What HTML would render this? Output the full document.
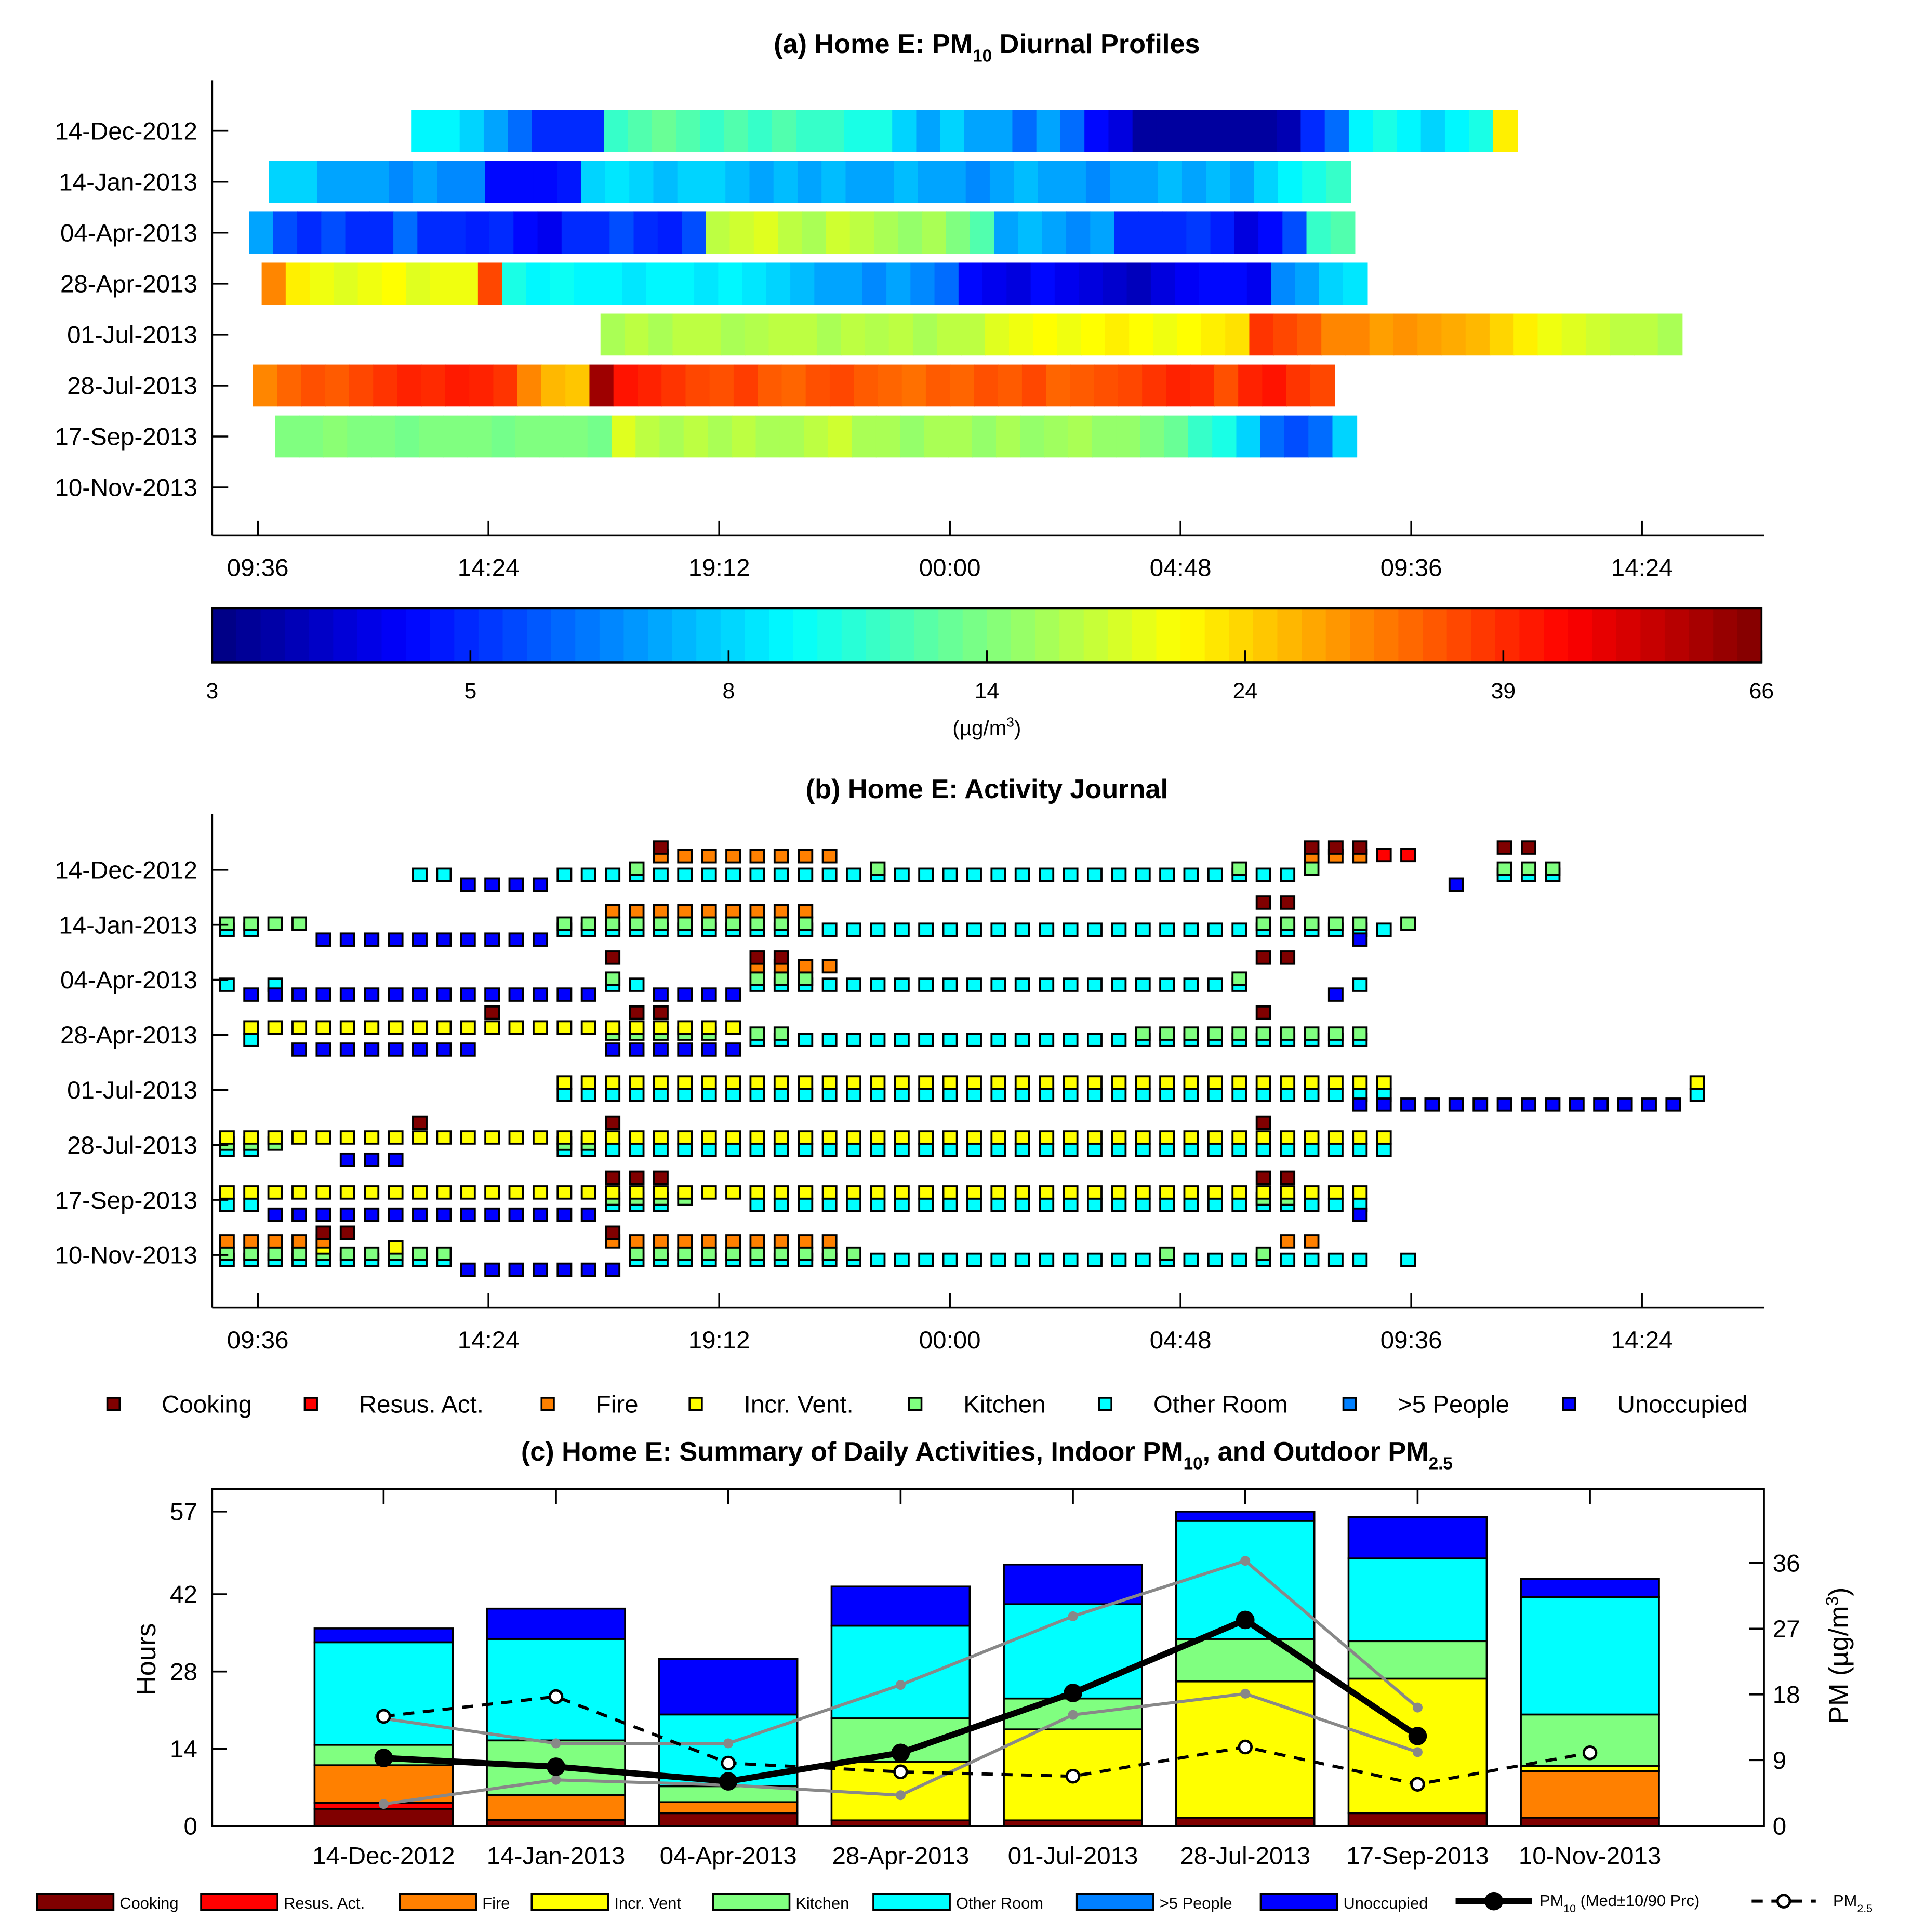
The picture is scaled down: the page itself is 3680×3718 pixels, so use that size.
<!DOCTYPE html>
<html><head><meta charset="utf-8"><style>
html,body{margin:0;padding:0;background:#fff;}
svg{display:block;font-family:"Liberation Sans",sans-serif;}
</style></head><body>
<svg id="fig" width="3680" height="3718" viewBox="0 0 1550 1566" xmlns="http://www.w3.org/2000/svg">
<g id="pa"></g>
<g id="pcb"></g>
<g id="pb"></g>
<g id="pc"></g>
</svg>
<script>
// ---------- data ----------
const dates = ["14-Dec-2012","14-Jan-2013","04-Apr-2013","28-Apr-2013","01-Jul-2013","28-Jul-2013","17-Sep-2013","10-Nov-2013"];
const timeTicks = ["09:36","14:24","19:12","00:00","04:48","09:36","14:24"];
const cbTicks = [3,5,8,14,24,39,66];
const hmStart = [3.2, 0.23, -0.18, 0.08, 7.13, -0.1, 0.36, null];
const hm0 = [9,9,8,7,6,5,5,5,11,12,13,12,11,12,11,12,11,11,10,10,8,7,8,7,7,6,7,6,4.5,4,3.3,3.3,3.3,3.3,3.3,3.3,3.5,5,6,9,10,9,8,9,10,22];
const hm1 = [8,8,7,7,7,6.5,7,6.5,6.5,4.5,4.5,4.5,4.7,8,8.5,8,7.5,8,8,7.5,7,7.5,7,7.5,7,7,7.5,7,7,6.5,7,7.5,7,7,6.5,7,7,7.5,7,7.5,7,8,9,10,11];
const hm2 = [7,5.5,5,5.5,5,5,6,5,5,4.8,5,4.5,4.2,5,5,5.5,5,4.8,5.5,17,18,19,17,16,18,17,16,15,16,14,12,7,7.5,7,6.5,7,5,5,5,5.2,4.8,4,4.5,5.5,11,12];
const hm3 = [30,22,20,19,20,21,19,20,20,36,10,9,9.5,9,9,8.5,9,9,8.5,9,8.5,8,7.5,7,7,6.5,7,6.5,6,4.5,4.2,4,4.5,4.2,4,3.8,3.6,4,4.3,4.5,4.5,4.2,6.5,7,8,8.5];
const hm4 = [16,17,16,17,17,16,16.5,17,17,16,17,16.5,17,16,17,17,19,20,21,20,21,22,21,20,21,22,23,38,36,34,30,30,28,29,28,27,26,24,22,20,19,18,17,17,16];
const hm5 = [30,33,35,34,36,38,40,39,41,40,38,30,26,25,60,42,40,38,36,35,37,34,33,35,36,34,33,32,34,33,35,34,36,33,34,35,36,38,40,39,35,40,42,38,36];
const hm6 = [14,14,14.5,14,14,13.5,14,14,14,13.5,14,14,14,13.5,19,17,16,17,16,17,16,16,17,18,16,16,15,16,16,15,16,15,15.5,16,15,15,14,13,11,10,8,6,5.5,6,8];
const hmValues = [hm0,hm1,hm2,hm3,hm4,hm5,hm6,[]];
const actCooking = [[0,18,18],[0,45,47],[0,53,54],[1,43,44],[2,16,16],[2,22,23],[2,43,44],[3,11,11],[3,17,18],[3,43,43],[5,8,8],[5,16,16],[5,43,43],[6,16,18],[6,43,44],[7,4,5],[7,16,16]];
const actResus = [[0,48,49]];
const actFire = [[0,18,25],[0,45,47],[1,16,24],[2,22,25],[7,0,4],[7,16,25],[7,44,45]];
const actVent = [[3,1,21],[4,14,48],[4,61,61],[5,0,48],[6,0,47],[7,4,4],[7,7,7]];
const actKitchen = [[0,17,17],[0,27,27],[0,42,42],[0,45,45],[0,53,55],[1,0,3],[1,14,24],[1,43,47],[1,49,49],[2,16,16],[2,22,24],[2,42,42],[3,16,20],[3,22,23],[3,38,47],[5,0,2],[5,14,15],[6,16,19],[6,43,44],[7,0,9],[7,17,26],[7,39,39],[7,43,43]];
const actOther = [[0,8,9],[0,14,44],[0,53,55],[1,0,1],[1,14,48],[2,0,0],[2,2,2],[2,16,17],[2,22,42],[2,47,47],[3,1,1],[3,22,47],[4,14,48],[4,61,61],[5,0,1],[5,14,48],[6,0,1],[6,16,18],[6,22,47],[7,0,9],[7,17,47],[7,49,49]];
const actPeople = [];
const actUnocc = [[0,10,13],[0,51,51],[1,4,13],[1,47,47],[2,1,15],[2,18,21],[2,46,46],[3,3,10],[3,16,21],[4,47,60],[5,5,7],[6,2,15],[6,47,47],[7,10,16]];
const sumCooking = [3.1,1.1,2.3,1.0,1.0,1.5,2.3,1.5];
const sumResus = [1.1,0,0,0,0,0,0,0];
const sumFire = [6.8,4.5,2.0,0,0,0,0,8.4];
const sumVent = [0,0,0,10.6,16.5,24.7,24.4,1.0];
const sumKitchen = [3.7,9.9,2.9,7.9,5.6,7.7,6.8,9.3];
const sumOther = [18.6,18.4,13.0,16.8,17.1,21.4,15.0,21.3];
const sumPeople = [0,0,0,0,0,0,0,0];
const sumUnocc = [2.5,5.5,10.1,7.1,7.2,1.7,7.5,3.3];
const pm10Med = [9.3,8.1,6.1,10.0,18.2,28.2,12.3];
const pm10P90 = [14.7,11.3,11.3,19.3,28.7,36.3,16.2];
const pm10P10 = [3.0,6.3,5.6,4.2,15.2,18.1,10.1];
const pm25 = [15.0,17.7,8.6,7.4,6.8,10.8,5.7,10.0];
const hoursTicks = [0,14,28,42,57];
const pmTicks = [0,9,18,27,36];

// ---------- helpers ----------
const NS="http://www.w3.org/2000/svg";
function mk(tag,attrs,parent){const e=document.createElementNS(NS,tag);for(const k in attrs)e.setAttribute(k,attrs[k]);parent.appendChild(e);return e;}
function txt(s,x,y,size,parent,anchor,weight){const t=mk('text',{x:x,y:y,'font-size':size,'text-anchor':anchor||'middle','font-weight':weight||'normal',fill:'#000'},parent);t.textContent=s;return t;}
function fOf(v){const n=cbTicks.length-1;if(v<=cbTicks[0])return 0;if(v>=cbTicks[n])return 1;
 for(let i=0;i<n;i++){if(v<=cbTicks[i+1]){const a=Math.log(v/cbTicks[i])/Math.log(cbTicks[i+1]/cbTicks[i]);return (i+a)/n;}}return 1;}
function jetF(f){const c=x=>Math.round(255*Math.max(0,Math.min(1,1.5-Math.abs(x))));return `rgb(${c(4*f-3)},${c(4*f-2)},${c(4*f-1)})`;}
const jet=v=>jetF(fOf(v));
const X0=209, PXH=38.96;
const xT=h=>X0+h*PXH;
const tickX=[0,4.8,9.6,14.4,19.2,24,28.8];

// ---------- panel a ----------
const pa=document.getElementById('pa');
const tA=txt('',800,43,22,pa,'middle','bold');
tA.innerHTML='(a) Home E: PM<tspan font-size="14" dy="7">10</tspan><tspan dy="-7"> Diurnal Profiles</tspan>';

const rowYA=i=>106+i*41.3;
hmValues.forEach((arr,r)=>{
  arr.forEach((v,i)=>{
    const x=xT(hmStart[r]+i*0.5);
    const rc=mk('rect',{x:x,y:rowYA(r)-17,width:PXH*0.5+0.6,height:34,fill:jet(v)},pa);
    
    
  });
});
mk('line',{x1:172,y1:65,x2:172,y2:434,stroke:'#000','stroke-width':1.5},pa);
mk('line',{x1:172,y1:434,x2:1430,y2:434,stroke:'#000','stroke-width':1.5},pa);
dates.forEach((d,i)=>{mk('line',{x1:172,y1:rowYA(i),x2:185,y2:rowYA(i),stroke:'#000','stroke-width':1.5},pa);
 const t=txt(d,160,rowYA(i)+7,20,pa,'end');});
tickX.forEach((h,i)=>{mk('line',{x1:xT(h),y1:434,x2:xT(h),y2:422,stroke:'#000','stroke-width':1.5},pa);
 const t=txt(timeTicks[i],xT(h),467,20,pa);});

// ---------- colorbar ----------
const cb=document.getElementById('pcb');
const CBX=172, CBW=1256;
for(let i=0;i<64;i++){const f=(i+0.5)/64;
 const r=mk('rect',{x:CBX+i*CBW/64,y:493,width:CBW/64+0.5,height:44,fill:jetF(f)},cb);
 }
mk('rect',{x:CBX,y:493,width:CBW,height:44,fill:'none',stroke:'#000','stroke-width':1.5},cb);
cbTicks.forEach((v,i)=>{const x=CBX+CBW*fOf(v);
 mk('line',{x1:x,y1:537,x2:x,y2:527,stroke:'#000','stroke-width':1.5},cb);
 const t=txt(String(v),x,566,18,cb);});
const cu=txt('',800,596,17,cb);cu.innerHTML='(µg/m<tspan font-size="11" dy="-7">3</tspan><tspan dy="7">)</tspan>';


// ---------- panel b ----------
const pb=document.getElementById('pb');
const tB=txt('(b) Home E: Activity Journal',800,647,22,pb,'middle','bold');

const rowYB=i=>705+i*44.6;
const binX=b=>184+19.54*b;
const cats=[
 {a:actOther,c:'#00ffff',o:4,n:'other-room'},
 {a:actPeople,c:'#0080ff',o:4,n:'people'},
 {a:actUnocc,c:'#0000ff',o:12,n:'unoccupied'},
 {a:actKitchen,c:'#80ff80',o:-1,n:'kitchen'},
 {a:actVent,c:'#ffff00',o:-6,n:'incr-vent'},
 {a:actFire,c:'#ff8000',o:-11,n:'fire'},
 {a:actResus,c:'#ff0000',o:-12,n:'resus-act'},
 {a:actCooking,c:'#800000',o:-18,n:'cooking'}];
cats.forEach(cat=>{cat.a.forEach(seg=>{for(let b=seg[1];b<=seg[2];b++){
 const r=mk('rect',{x:binX(b)-5.5,y:rowYB(seg[0])+cat.o-5,width:11,height:10,fill:cat.c,stroke:'#000','stroke-width':1.6},pb);
 }});});
mk('line',{x1:172,y1:660,x2:172,y2:1060,stroke:'#000','stroke-width':1.5},pb);
mk('line',{x1:172,y1:1060,x2:1430,y2:1060,stroke:'#000','stroke-width':1.5},pb);
dates.forEach((d,i)=>{mk('line',{x1:172,y1:rowYB(i),x2:185,y2:rowYB(i),stroke:'#000','stroke-width':1.5},pb);
 const t=txt(d,160,rowYB(i)+7,20,pb,'end');});
tickX.forEach((h,i)=>{mk('line',{x1:xT(h),y1:1060,x2:xT(h),y2:1048,stroke:'#000','stroke-width':1.5},pb);
 const t=txt(timeTicks[i],xT(h),1093,20,pb);});
const legB=[['Cooking','#800000',92],['Resus. Act.','#ff0000',252],['Fire','#ff8000',444],['Incr. Vent.','#ffff00',564],['Kitchen','#80ff80',742],['Other Room','#00ffff',896],['>5 People','#0080ff',1094],['Unoccupied','#0000ff',1272]];
legB.forEach(l=>{const g=mk('g',{},pb);
 mk('rect',{x:l[2]-5,y:1133,width:10,height:10,fill:l[1],stroke:'#000','stroke-width':1.5},g);
 txt(l[0],l[2]+39,1145,20,g,'start');});

// ---------- panel c ----------
const pc=document.getElementById('pc');
const tC=txt('',800,1184,22,pc,'middle','bold');
tC.innerHTML='(c) Home E: Summary of Daily Activities, Indoor PM<tspan font-size="14" dy="7">10</tspan><tspan dy="-7">, and Outdoor PM</tspan><tspan font-size="14" dy="7">2.5</tspan>';

const yH=h=>1480-h*4.47, yP=p=>1480-p*5.92;
const xB=i=>311+i*139.7;
const stackDefs=[[sumCooking,'#800000'],[sumResus,'#ff0000'],[sumFire,'#ff8000'],[sumVent,'#ffff00'],[sumKitchen,'#80ff80'],[sumOther,'#00ffff'],[sumPeople,'#0080ff'],[sumUnocc,'#0000ff']];
dates.forEach((d,i)=>{let acc=0;stackDefs.forEach(s=>{const v=s[0][i];if(v>0){
 const r=mk('rect',{x:xB(i)-56,y:yH(acc+v),width:112,height:v*4.47,fill:s[1],stroke:'#000','stroke-width':1.5},pc);
 acc+=v;}});
 const t=txt(d,xB(i),1511,20,pc);
 mk('line',{x1:xB(i),y1:1207,x2:xB(i),y2:1219,stroke:'#000','stroke-width':1.5},pc);});
function poly(vals,stroke,w,dash,name){const pts=vals.map((v,i)=>xB(i)+','+yP(v)).join(' ');
 const p=mk('polyline',{points:pts,fill:'none',stroke:stroke,'stroke-width':w},pc);if(dash)p.setAttribute('stroke-dasharray',dash);
 }
poly(pm10P90,'#888',2.5,null,'pm10-p90-line');
poly(pm10P10,'#888',2.5,null,'pm10-p10-line');
pm10P90.concat(pm10P10).forEach((v,k)=>{const c=mk('circle',{cx:xB(k%7),cy:yP(v),r:4,fill:'#888'},pc);});
poly(pm25,'#000',2.5,'9,7','pm25-line');
poly(pm10Med,'#000',5,null,'pm10-median-line');
pm10Med.forEach((v,i)=>{const c=mk('circle',{cx:xB(i),cy:yP(v),r:7.5,fill:'#000'},pc);});
pm25.forEach((v,i)=>{const c=mk('circle',{cx:xB(i),cy:yP(v),r:5,fill:'#fff',stroke:'#000','stroke-width':2},pc);});
mk('rect',{x:172,y:1207,width:1258,height:273,fill:'none',stroke:'#000','stroke-width':1.5},pc);
hoursTicks.forEach(h=>{mk('line',{x1:172,y1:yH(h),x2:184,y2:yH(h),stroke:'#000','stroke-width':1.5},pc);
 const t=txt(String(h),160,yH(h)+7,20,pc,'end');});
pmTicks.forEach(p=>{mk('line',{x1:1430,y1:yP(p),x2:1418,y2:yP(p),stroke:'#000','stroke-width':1.5},pc);
 const t=txt(String(p),1437,yP(p)+7,20,pc,'start');});
const yl=txt('Hours',0,0,22,pc);yl.setAttribute('transform','translate(126,1345) rotate(-90)');

const yr=txt('',0,0,22,pc);yr.setAttribute('transform','translate(1498,1342) rotate(-90)');
yr.innerHTML='PM (µg/m<tspan font-size="14" dy="-8">3</tspan><tspan dy="8">)</tspan>';

const legC=[['Cooking','#800000',30],['Resus. Act.','#ff0000',163],['Fire','#ff8000',324],['Incr. Vent','#ffff00',431],['Kitchen','#80ff80',578],['Other Room','#00ffff',708],['>5 People','#0080ff',873],['Unoccupied','#0000ff',1022]];
legC.forEach(l=>{const g=mk('g',{},pc);
 mk('rect',{x:l[2],y:1535,width:62,height:13,fill:l[1],stroke:'#000','stroke-width':1.5},g);
 txt(l[0],l[2]+67,1547,13,g,'start');});
const g1=mk('g',{},pc);
mk('line',{x1:1180,y1:1541,x2:1242,y2:1541,stroke:'#000','stroke-width':5},g1);
mk('circle',{cx:1211,cy:1541,r:7.5,fill:'#000'},g1);
const lt=txt('',1248,1545,13,g1,'start');lt.innerHTML='PM<tspan font-size="9" dy="5">10</tspan><tspan dy="-5"> (Med±10/90 Prc)</tspan>';
const g2=mk('g',{},pc);
mk('line',{x1:1420,y1:1541,x2:1472,y2:1541,stroke:'#000','stroke-width':2.5,'stroke-dasharray':'9,7'},g2);
mk('circle',{cx:1446,cy:1541,r:5,fill:'#fff',stroke:'#000','stroke-width':2},g2);
const lt2=txt('',1486,1545,13,g2,'start');lt2.innerHTML='PM<tspan font-size="9" dy="5">2.5</tspan>';
</script>
</body></html>
